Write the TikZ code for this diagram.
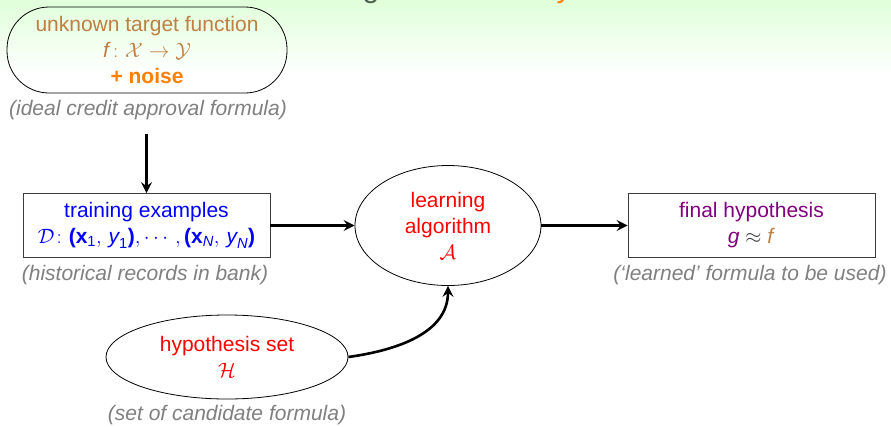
\documentclass[tikz,border=0pt]{standalone}
\usepackage{amsmath}
\usepackage{fontspec}
\setmainfont{Liberation Sans}
\usetikzlibrary{arrows.meta,shapes.geometric,calc}

\definecolor{tgt}{RGB}{190,128,64}
\definecolor{noisecol}{RGB}{255,128,0}
\definecolor{capgray}{RGB}{128,128,128}
\definecolor{fincol}{RGB}{128,0,128}
\definecolor{bggreen}{RGB}{224,255,218}
\definecolor{titlecol}{RGB}{80,100,85}
\definecolor{edgecol}{RGB}{60,60,60}

% sans letters inside formulas
\newcommand{\bx}{\text{\bfseries x}}
\newcommand{\iy}[1]{\text{\itshape #1}}
\newcommand{\bop}{\text{\bfseries (}}
\newcommand{\bcl}{\text{\bfseries )}}

\begin{document}
\begin{tikzpicture}[x=1pt,y=-1pt,
  txt/.style={font=\fontsize{21}{26}\selectfont, align=center, inner sep=0pt},
  caption/.style={txt, font=\fontsize{21}{26}\selectfont\itshape, text=capgray},
  stadium/.style={txt, draw, line width=0.8pt, rounded corners=42pt,
    minimum width=280pt, minimum height=86pt},
  databox/.style={txt, draw=edgecol, line width=0.8pt,
    minimum width=247pt, minimum height=64pt},
  oval/.style={txt, draw, line width=0.8pt, ellipse},
  arr/.style={line width=2.6pt, -{Stealth[length=11pt,width=11pt,inset=4pt]}},
  titlefrag/.style={anchor=base, inner sep=0pt, font=\fontsize{30}{36}\selectfont}
]
\useasboundingbox (0,0) rectangle (891,426);
\clip (0,0) rectangle (891,426);

% slide background
\fill[white] (0,0) rectangle (891,426);
\shade[top color=bggreen, bottom color=white] (0,0) rectangle (891,76);

% lower edge of the slide title
\node[titlefrag, text=titlecol] (tg) at (371,-2.5) {g};
\node[titlefrag, text=noisecol] (ty) at (564,-2.5) {y};

% nodes
\node[stadium, text=tgt] (target) at (147,50)
  {unknown target function\\
   \textit{f}$\colon\mathcal{X}\to\mathcal{Y}$\\
   \textcolor{noisecol}{\bfseries + noise}};
\node[caption] (cap1) at (148,110) {(ideal credit approval formula)};

\node[databox, text=blue] (train) at (146.5,225.5)
  {training examples\\
   $\mathcal{D}\colon\bop\bx_{\text{1}},\,\iy{y}_{\text{1}}\bcl,\cdots,\bop\bx_{\iy{N}},\,\iy{y}_{\iy{N}}\bcl$};
\node[caption] (cap2) at (145,275) {(historical records in bank)};

\node[oval, text=red, minimum width=186pt, minimum height=120pt] (algo) at (448,225.5)
  {learning\\ algorithm\\ $\mathcal{A}$};

\node[databox, text=fincol] (final) at (751.5,225.5)
  {final hypothesis\\
   \textit{g} \textcolor{edgecol}{$\approx$} \textcolor{tgt}{\textit{f}}};
\node[caption] (cap3) at (750,275) {(‘learned’ formula to be used)};

\node[oval, text=red, minimum width=242pt, minimum height=84pt] (hyp) at (227,357)
  {hypothesis set\\ $\mathcal{H}$};
\node[caption] (cap4) at (227,415) {(set of candidate formula)};

% connectors
\coordinate (drop) at ($(cap1.south -| train.north)+(0,14)$);
\draw[arr] (drop) -- (train.north);
\draw[arr] (train) -- (algo);
\draw[arr] (algo) -- (final);
\draw[arr] (hyp.east) to[out=8,in=-90] (algo.south);
\end{tikzpicture}
\end{document}
